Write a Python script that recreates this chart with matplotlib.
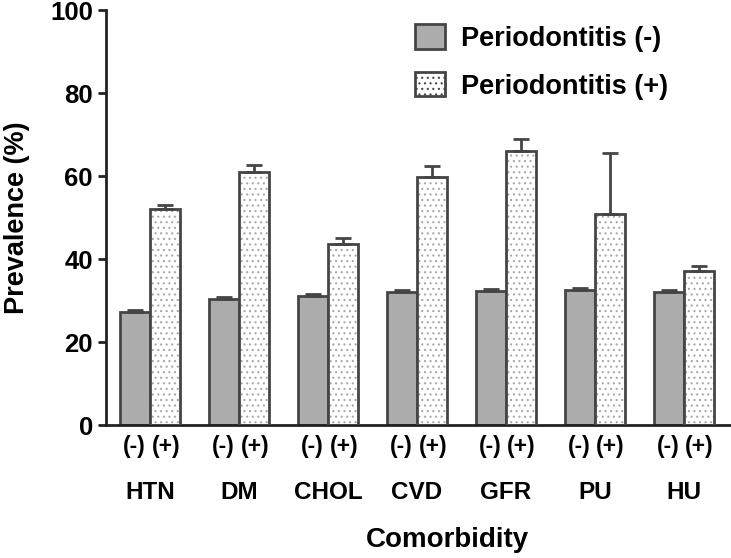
import numpy as np
import matplotlib
matplotlib.use("Agg")
import matplotlib.pyplot as plt
from matplotlib.patches import Patch

plt.rcParams['font.family'] = ['Liberation Sans', 'DejaVu Sans']
plt.rcParams['font.weight'] = 'bold'
plt.rcParams['axes.labelweight'] = 'bold'
plt.rcParams['hatch.linewidth'] = 0.8

categories = ["HTN", "DM", "CHOL", "CVD", "GFR", "PU", "HU"]
perio_neg = [27.2, 30.3, 31.0, 32.1, 32.4, 32.5, 32.1]
perio_neg_err = [0.5, 0.6, 0.7, 0.5, 0.5, 0.6, 0.5]
perio_pos = [52.0, 61.0, 43.7, 59.7, 66.0, 50.8, 37.1]
perio_pos_err = [1.1, 1.6, 1.4, 2.7, 2.9, 14.7, 1.3]
sub_labels = ["(-)", "(+)"]

edge = "#454545"
x = np.arange(len(categories))
w = 0.338

fig = plt.figure(figsize=(7.31, 5.58), dpi=100)
ax = fig.add_axes([0.145, 0.238, 0.855, 0.744])

# negative group, solid gray
ax.bar(x - w / 2, perio_neg, w, color="#acacac", edgecolor=edge, linewidth=2,
       yerr=[np.zeros(len(x)), perio_neg_err], ecolor=edge,
       error_kw=dict(elinewidth=2, capsize=5.5, capthick=2), zorder=2)

# positive group: dotted fill drawn first, then outline on top
ax.bar(x + w / 2, perio_pos, w, color="white", edgecolor="#a8a8a8", hatch="...",
       linewidth=0, zorder=2)
ax.bar(x + w / 2, perio_pos, w, color="none", edgecolor=edge, linewidth=2,
       yerr=[np.zeros(len(x)), perio_pos_err], ecolor=edge,
       error_kw=dict(elinewidth=2, capsize=5.5, capthick=2), zorder=3)

# legend proxies
h_neg = Patch(facecolor="#acacac", edgecolor=edge, linewidth=2)
h_pos = Patch(facecolor="white", edgecolor=edge, linewidth=2, hatch="...")
ax.legend([h_neg, h_pos], ["Periodontitis (-)", "Periodontitis (+)"],
          loc="upper left", bbox_to_anchor=(0.456, 1.024), frameon=False,
          fontsize=19.5, handlelength=1.1, handleheight=1.0, handletextpad=0.6,
          labelspacing=0.75)

ax.set_ylim(0, 100)
ax.set_yticks([0, 20, 40, 60, 80, 100])
ax.set_xlim(-0.495, 6.53)

# sub labels as minor ticks, categories as major ticks
off = w / 2 + 0.008
minor_pos = np.concatenate([x - off, x + off])
minor_lab = [sub_labels[0]] * len(x) + [sub_labels[1]] * len(x)
ax.set_xticks(minor_pos, minor=True)
ax.set_xticklabels(minor_lab, minor=True, fontsize=16.5)
ax.set_xticks(x)
ax.set_xticklabels(categories, fontsize=17.5)
ax.tick_params(axis="x", which="both", length=0)
ax.tick_params(axis="x", which="minor", pad=7)
ax.tick_params(axis="x", which="major", pad=40)
ax.tick_params(axis="y", labelsize=18.5, width=2, length=6, color="#222222")

for s in ["top", "right"]:
    ax.spines[s].set_visible(False)
for s in ["left", "bottom"]:
    ax.spines[s].set_linewidth(2)
    ax.spines[s].set_color("#222222")

ax.set_ylabel("Prevalence (%)", fontsize=19.5, labelpad=14)
ax.set_xlabel("Comorbidity", fontsize=20, labelpad=17)
ax.xaxis.label.set_x(0.546)

fig.savefig("out.png", dpi=100)
